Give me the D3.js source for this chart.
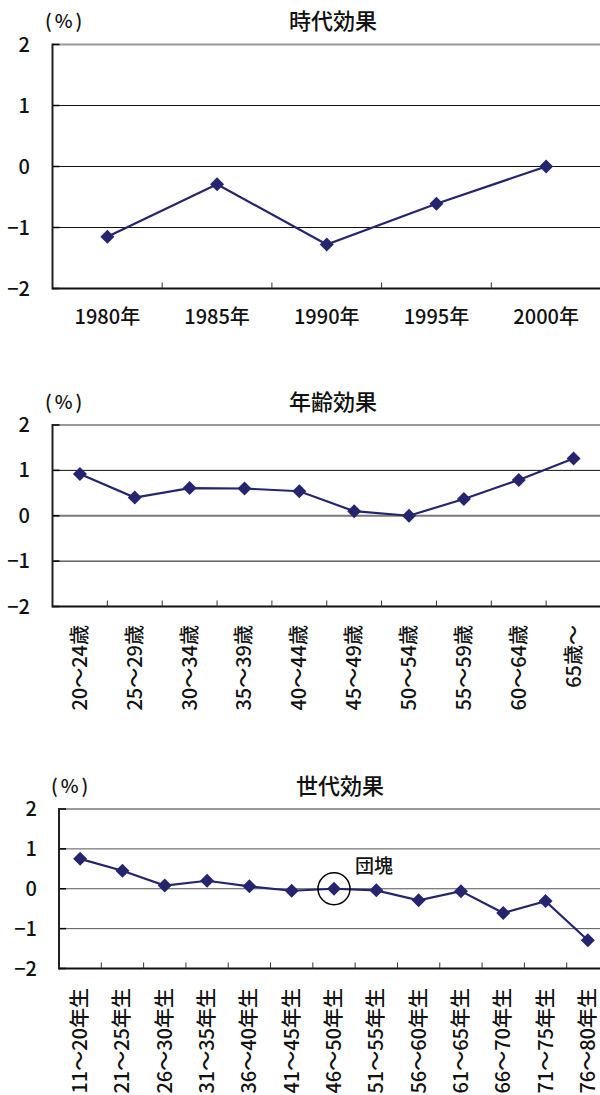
<!DOCTYPE html>
<html>
<head>
<meta charset="utf-8">
<script src="https://cdn.jsdelivr.net/npm/d3@7"></script>
<style>
  body { margin: 0; background: #fff; }
  svg { display: block; }
  text { font-family: "Noto Sans CJK JP", "Noto Sans", sans-serif; font-weight: 500; fill: #111; }
</style>
</head>
<body>
<svg id="chart" width="600" height="1095"></svg>
<script>
// Period effect (時代効果)
const periodLabels = ["1980年", "1985年", "1990年", "1995年", "2000年"];
const periodValues = [-1.15, -0.29, -1.28, -0.61, 0.0];

// Age effect (年齢効果)
const ageLabels = ["20～24歳", "25～29歳", "30～34歳", "35～39歳", "40～44歳",
                   "45～49歳", "50～54歳", "55～59歳", "60～64歳", "65歳～"];
const ageValues = [0.92, 0.40, 0.61, 0.60, 0.54, 0.10, 0.0, 0.37, 0.79, 1.26];

// Cohort effect (世代効果)
const cohortLabels = ["11～20年生", "21～25年生", "26～30年生", "31～35年生", "36～40年生",
                      "41～45年生", "46～50年生", "51～55年生", "56～60年生", "61～65年生",
                      "66～70年生", "71～75年生", "76～80年生"];
const cohortValues = [0.75, 0.45, 0.08, 0.20, 0.06, -0.05, 0.0, -0.04, -0.29, -0.06, -0.61, -0.31, -1.29];

// Shared value axis
const yTicks = [-2, -1, 0, 1, 2];
const unitLabel = "(%)";

// Callout on the baby-boomer cohort
const calloutCategory = "46～50年生";
const calloutText = "団塊";

const lineColor = "#25256f";
const svg = d3.select("#chart");

function drawPanel(cfg) {
  const g = svg.append("g");
  const x = d3.scaleBand().domain(cfg.labels).range([cfg.left, cfg.right]);
  const y = d3.scaleLinear().domain([-2, 2]).range([cfg.bottom, cfg.top]);

  // title and unit
  g.append("text")
    .attr("x", cfg.titleX).attr("y", cfg.titleY).attr("dy", "0.35em")
    .attr("text-anchor", "middle").style("font-size", "22px")
    .text(cfg.title);
  g.append("text")
    .attr("x", cfg.unitX).attr("y", cfg.titleY).attr("dy", "0.35em")
    .style("font-size", "19px").style("letter-spacing", "3px")
    .text(unitLabel);

  // horizontal gridlines
  g.selectAll(".grid").data(yTicks.filter(t => t > -2)).join("line")
    .attr("x1", cfg.left).attr("x2", cfg.right)
    .attr("y1", d => y(d)).attr("y2", d => y(d))
    .attr("stroke", d => d === 2 ? "#9a9a9a" : (d === 0 && cfg.zeroGrey ? "#7a7a7a" : cfg.gridColor))
    .attr("stroke-width", d => d === 2 ? 2 : (d === 0 && cfg.zeroGrey ? 2 : 1));

  // y ticks (inward) and labels
  g.selectAll(".ytick").data(yTicks).join("line")
    .attr("x1", cfg.left).attr("x2", cfg.left + 7)
    .attr("y1", d => y(d)).attr("y2", d => y(d))
    .attr("stroke", "#000").attr("stroke-width", 1.5);
  g.selectAll(".ylab").data(yTicks).join("text")
    .attr("x", cfg.yLabelX).attr("y", d => y(d)).attr("dy", "0.35em")
    .attr("text-anchor", "end").style("font-size", "20px")
    .text(d => d < 0 ? "−" + Math.abs(d) : d);

  // axis lines
  g.append("line")
    .attr("x1", cfg.left).attr("x2", cfg.left)
    .attr("y1", cfg.top - 1).attr("y2", cfg.bottom + 1)
    .attr("stroke", "#222").attr("stroke-width", 2);
  g.append("line")
    .attr("x1", cfg.left).attr("x2", cfg.right)
    .attr("y1", cfg.bottom).attr("y2", cfg.bottom)
    .attr("stroke", "#111").attr("stroke-width", 2);

  // category boundary ticks (inward)
  g.selectAll(".xtick").data(cfg.labels.slice(1)).join("line")
    .attr("x1", d => x(d)).attr("x2", d => x(d))
    .attr("y1", cfg.bottom).attr("y2", cfg.bottom - 6)
    .attr("stroke", "#333").attr("stroke-width", 1);

  // category labels
  const cx = d => x(d) + x.bandwidth() / 2;
  if (cfg.rotate) {
    g.selectAll(".xlab").data(cfg.labels).join("text")
      .attr("transform", d => `translate(${cx(d)},${cfg.labelY}) rotate(-90)`)
      .attr("dy", "0.35em").attr("text-anchor", "end")
      .style("font-size", "20px")
      .text(d => d);
  } else {
    g.selectAll(".xlab").data(cfg.labels).join("text")
      .attr("x", cx).attr("y", cfg.labelY).attr("dy", "0.35em")
      .attr("text-anchor", "middle").style("font-size", "20px")
      .text(d => d);
  }

  // series line and diamond markers
  const pts = cfg.labels.map((l, i) => [cx(l), y(cfg.values[i])]);
  g.append("path")
    .attr("d", d3.line()(pts))
    .attr("fill", "none").attr("stroke", lineColor).attr("stroke-width", 2.2);
  g.selectAll(".pt").data(pts).join("path")
    .attr("transform", d => `translate(${d[0]},${d[1]}) rotate(45)`)
    .attr("d", d3.symbol().type(d3.symbolSquare).size(98)())
    .attr("fill", lineColor);

  return { x, y, g, cx };
}

drawPanel({
  title: "時代効果", labels: periodLabels, values: periodValues,
  left: 52.5, right: 601, top: 44.5, bottom: 288.5,
  titleX: 333, titleY: 21, unitX: 45, yLabelX: 30, labelY: 317,
  gridColor: "#111", zeroGrey: false, rotate: false
});

drawPanel({
  title: "年齢効果", labels: ageLabels, values: ageValues,
  left: 52.5, right: 601, top: 425, bottom: 606.5,
  titleX: 333, titleY: 402, unitX: 45, yLabelX: 30, labelY: 625,
  gridColor: "#111", zeroGrey: true, rotate: true
});

const cohort = drawPanel({
  title: "世代効果", labels: cohortLabels, values: cohortValues,
  left: 59, right: 609, top: 809, bottom: 968.5,
  titleX: 340, titleY: 786, unitX: 51, yLabelX: 37, labelY: 988,
  gridColor: "#555", zeroGrey: false, rotate: true
});

// circle and label on the baby-boomer cohort
const ci = cohortLabels.indexOf(calloutCategory);
const bx = cohort.cx(calloutCategory), by = cohort.y(cohortValues[ci]);
cohort.g.append("ellipse")
  .attr("cx", bx).attr("cy", by).attr("rx", 16).attr("ry", 16)
  .attr("fill", "none").attr("stroke", "#000").attr("stroke-width", 1.5);
cohort.g.append("text")
  .attr("x", bx + 40).attr("y", by - 22).attr("dy", "0.35em")
  .attr("text-anchor", "middle").style("font-size", "19px")
  .text(calloutText);
</script>
</body>
</html>
